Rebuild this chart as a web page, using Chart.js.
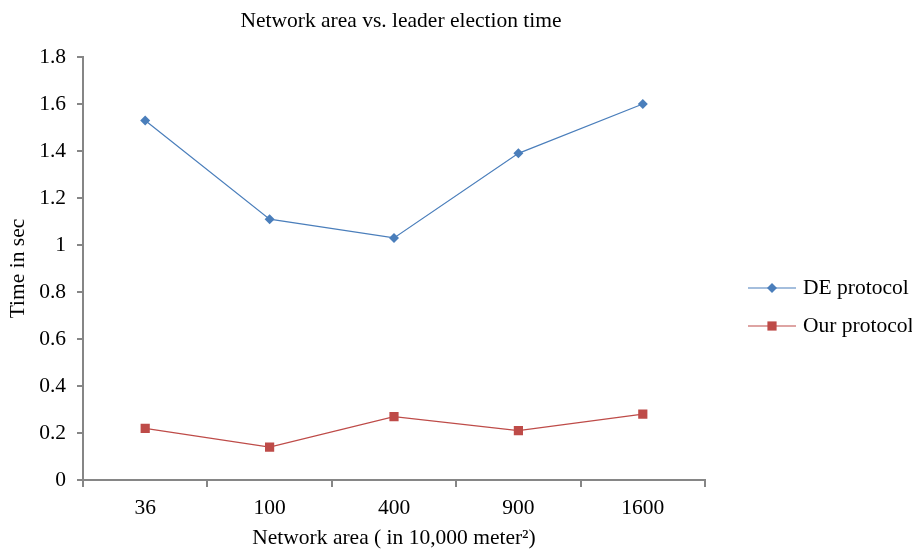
<!DOCTYPE html>
<html>
<head>
<meta charset="utf-8">
<script src="https://cdn.jsdelivr.net/npm/chart.js@4/dist/chart.umd.min.js"></script>
<style>
  html, body { margin: 0; padding: 0; background: #ffffff; }
  #wrap { width: 912px; height: 551px; }
</style>
</head>
<body>
<div id="wrap"><canvas id="lineChart" width="912" height="551"></canvas></div>
<script>
// ======================================
// Network area vs. leader election time
// ======================================

const areas = ["36", "100", "400", "900", "1600"];
const deProtocol = [1.53, 1.11, 1.03, 1.39, 1.60];
const ourProtocol = [0.22, 0.14, 0.27, 0.21, 0.28];
const seriesNames = ["DE protocol", "Our protocol"];

const serif = "'Liberation Serif', 'Times New Roman', serif";
const blue = "#4A7EBB";
const red = "#BE4B48";
const axisGray = "#868686";
const fontSize = 21.5;

// title + legend drawn by hand so they sit where the reference has them
const extras = {
    id: "extras",
    afterDraw(chart) {
        const ctx = chart.ctx;
        ctx.save();
        ctx.fillStyle = "#000000";
        ctx.textBaseline = "middle";

        ctx.font = fontSize + "px " + serif;
        ctx.textAlign = "center";
        ctx.fillText("Network area vs. leader election time", 401, 21);

        const items = [
            { name: seriesNames[0], color: blue, style: "rectRot", r: 5, y: 288 },
            { name: seriesNames[1], color: red, style: "rect", r: 6.5, y: 326 }
        ];
        ctx.textAlign = "left";
        items.forEach(it => {
            ctx.strokeStyle = it.color;
            ctx.lineWidth = 1.2;
            ctx.beginPath();
            ctx.moveTo(748, it.y);
            ctx.lineTo(796, it.y);
            ctx.stroke();
            ctx.fillStyle = it.color;
            Chart.helpers.drawPoint(ctx, { pointStyle: it.style, radius: it.r, borderWidth: 0 }, 772, it.y);
            ctx.fillStyle = "#000000";
            ctx.fillText(it.name, 803, it.y);
        });
        ctx.restore();
    }
};

new Chart(document.getElementById("lineChart"), {

    type: "line",

    data: {
        labels: areas,
        datasets: [
            {
                label: seriesNames[0],
                data: deProtocol,
                borderColor: blue,
                backgroundColor: blue,
                borderWidth: 1.2,
                pointStyle: "rectRot",
                pointRadius: 5,
                pointBorderWidth: 0,
                tension: 0
            },
            {
                label: seriesNames[1],
                data: ourProtocol,
                borderColor: red,
                backgroundColor: red,
                borderWidth: 1.2,
                pointStyle: "rect",
                pointRadius: 6.5,
                pointBorderWidth: 0,
                tension: 0
            }
        ]
    },

    options: {
        responsive: false,
        animation: false,
        layout: {
            padding: { top: 57, right: 207, bottom: 0, left: 0 }
        },
        plugins: {
            legend: { display: false },
            title: { display: false },
            tooltip: { enabled: false }
        },
        scales: {
            x: {
                offset: true,
                afterFit(scale) { scale.height = 71; },
                grid: {
                    offset: true,
                    drawOnChartArea: false,
                    drawTicks: true,
                    tickLength: 7,
                    color: axisGray,
                    lineWidth: 2
                },
                border: { color: axisGray, width: 2 },
                ticks: {
                    color: "#000000",
                    padding: 8,
                    font: { family: serif, size: fontSize }
                },
                title: {
                    display: true,
                    text: "Network area ( in 10,000 meter²)",
                    color: "#000000",
                    font: { family: serif, size: fontSize },
                    padding: { top: 4, bottom: 0 }
                }
            },
            y: {
                min: 0,
                max: 1.8,
                afterFit(scale) { scale.width = 83; },
                grid: {
                    drawOnChartArea: false,
                    drawTicks: true,
                    tickLength: 6,
                    color: axisGray,
                    lineWidth: 2
                },
                border: { color: axisGray, width: 2 },
                ticks: {
                    stepSize: 0.2,
                    color: "#000000",
                    padding: 11,
                    font: { family: serif, size: fontSize },
                    callback: v => Math.round(v * 10) / 10
                },
                title: {
                    display: true,
                    text: "Time in sec",
                    color: "#000000",
                    font: { family: serif, size: fontSize },
                    padding: { top: 5, bottom: 0 }
                }
            }
        }
    },

    plugins: [extras]
});
</script>
</body>
</html>
